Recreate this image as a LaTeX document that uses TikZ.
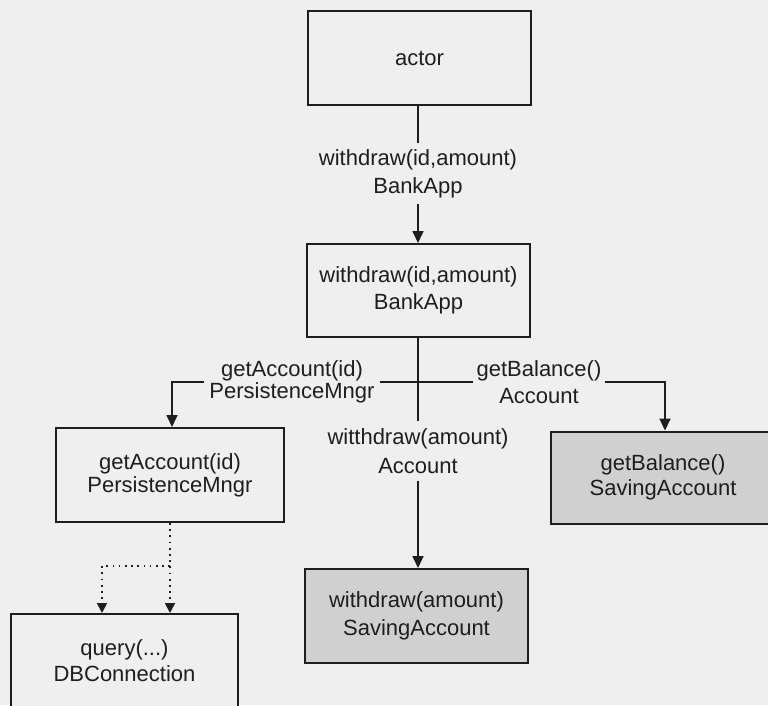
\documentclass[tikz,border=0pt]{standalone}
\usepackage{fontspec}
\setmainfont{Liberation Sans}
\usetikzlibrary{arrows.meta}
\definecolor{bgc}{RGB}{239,239,239}
\definecolor{gfill}{RGB}{208,208,208}
\definecolor{ink}{RGB}{30,30,30}
\begin{document}
\begin{tikzpicture}[x=1pt,y=-1pt,
  every node/.style={text=ink, font=\fontsize{22}{27}\selectfont, align=center},
  box/.style={draw=ink, line width=2pt, fill=bgc, inner sep=0pt},
  gbox/.style={box, fill=gfill},
  lbl/.style={inner xsep=4pt, inner ysep=6pt},
  conn/.style={draw=ink, line width=1.7pt},
  arr/.style={conn, -{Triangle[length=12pt,width=11pt]}},
  dotarr/.style={draw=ink, line width=1.7pt, dash pattern=on 1.7pt off 4.5pt, -{Triangle[length=10pt,width=10pt]}}]
\useasboundingbox (0,0) rectangle (768,705);
\fill[bgc] (0,0) rectangle (768,705);
\clip (0,0) rectangle (768,705);

% boxes
\node[box, minimum width=223pt, minimum height=94pt] (actor) at (419.5,58) {actor};
\node[box, minimum width=223pt, minimum height=93pt] (bank) at (418.5,290.5) {withdraw(id,amount)\\BankApp};
\node[box, minimum width=228pt, minimum height=94pt, font=\fontsize{22}{23}\selectfont] (persist) at (170,475) {getAccount(id)\\PersistenceMngr};
\node[gbox, minimum width=224pt, minimum height=92pt, font=\fontsize{22}{25}\selectfont] (gbal) at (663,477.5) {getBalance()\\SavingAccount};
\node[gbox, minimum width=223pt, minimum height=94pt, font=\fontsize{22}{28}\selectfont] (wsav) at (416.5,616) {withdraw(amount)\\SavingAccount};
\node[box, minimum width=227pt, minimum height=94pt, font=\fontsize{22}{26}\selectfont] (db) at (124.5,661) {query(...)\\DBConnection};

% labels
\node[lbl, font=\fontsize{22}{28}\selectfont] (lab1) at (418,173.5) {withdraw(id,amount)\\BankApp};
\node[lbl, inner xsep=5pt, font=\fontsize{22}{20}\selectfont] (lab2) at (292,382) {getAccount(id)\\PersistenceMngr};
\node[lbl, inner xsep=3pt, font=\fontsize{22}{27}\selectfont] (lab3) at (539,382) {getBalance()\\Account};
\node[lbl, inner ysep=7pt, font=\fontsize{22}{29}\selectfont] (lab4) at (418,451) {witthdraw(amount)\\Account};

% connectors
\draw[conn] (actor.south -| lab1.north) -- (lab1.north);
\draw[arr] (lab1.south) -- (lab1.south |- bank.north);
\draw[conn] (bank.south -| lab4.north) -- (lab4.north);
\draw[arr] (lab4.south) -- (lab4.south |- wsav.north);
\draw[arr] (lab2.west) -| ([xshift=2pt]persist.north);
\draw[conn] (lab2.east) -- (lab3.west);
\draw[arr] (lab3.east) -| ([xshift=2pt]gbal.north);

% dotted connectors
\coordinate (br) at (170,566);
\draw[dotarr] (persist.south) -- (persist.south |- db.north);
\draw[dotarr] (br) -| ([xshift=-22.5pt]db.north);
\end{tikzpicture}
\end{document}
